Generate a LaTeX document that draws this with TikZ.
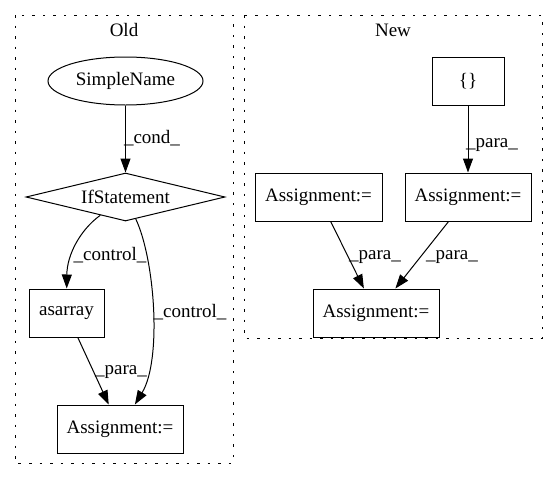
\documentclass[tikz,border=0pt]{standalone}
\usepackage{fontspec}
\setmainfont{Liberation Serif}
\usepackage{tikz}
\usetikzlibrary{shapes.geometric}
\usetikzlibrary{arrows.meta}

\begin{document}
\begin{tikzpicture}[x=1pt, y=-1pt,
    every node/.style={font=\fontsize{19}{22}\selectfont},
    cluster/.style={draw, line width=1pt, dash pattern=on 2.5pt off 8pt},
    box/.style={draw, line width=1pt, rectangle, inner sep=0pt, minimum height=48pt},
    edge/.style={line width=1pt, -{Triangle[length=14pt, width=10pt]}}]

    \useasboundingbox (0,0) rectangle (557,480);

    % Draw the two clusters
    \draw[cluster] (15,15) rectangle (233,463);
    \draw[cluster] (244,15) rectangle (542,338);
    \node (old) at (124,30) {Old};
    \node (new) at (393,30) {New};

    % Place the nodes of Old
    \node[ellipse, draw, line width=1pt, inner sep=0pt, minimum width=155pt, minimum height=48pt] (sn) at (125.5,81) {SimpleName};
    \node[diamond, draw, line width=1pt, inner sep=0pt, aspect=4.15, minimum width=199pt, minimum height=48pt] (ifs) at (125.5,197) {IfStatement};
    \node[box, minimum width=75pt] (asarr) at (66.5,313) {asarray};
    \node[box, minimum width=126pt] (asgold) at (120,429) {Assignment:=};

    % Place the nodes of New
    \node[box, minimum width=72pt] (brace) at (468,81.5) {\{\}};
    \node[box, minimum width=126pt] (asgr) at (468,197) {Assignment:=};
    \node[box, minimum width=127pt] (asgl) at (318.5,197) {Assignment:=};
    \node[box, minimum width=126pt] (asgb) at (376,313) {Assignment:=};

    % Draw the edges of Old
    \draw[edge] (sn) -- (ifs);
    \draw[edge] (ifs) .. controls (80,230) and (67,255) .. (asarr);
    \draw[edge] (ifs) .. controls (155,260) and (162,360) .. (asgold);
    \draw[edge] (asarr) -- (asgold);
    \node (lcond) at (152,138) {\_cond\_};
    \node (lctrl1) at (110,255) {\_control\_};
    \node (lctrl2) at (190,312) {\_control\_};
    \node (lpara1) at (121,372) {\_para\_};

    % Draw the edges of New
    \draw[edge] (brace) -- (asgr);
    \draw[edge] (asgl) -- (asgb);
    \draw[edge] (asgr) -- (asgb);
    \node (lpara2) at (492,145) {\_para\_};
    \node (lpara3) at (375,257) {\_para\_};
    \node (lpara4) at (452,257) {\_para\_};

\end{tikzpicture}
\end{document}
